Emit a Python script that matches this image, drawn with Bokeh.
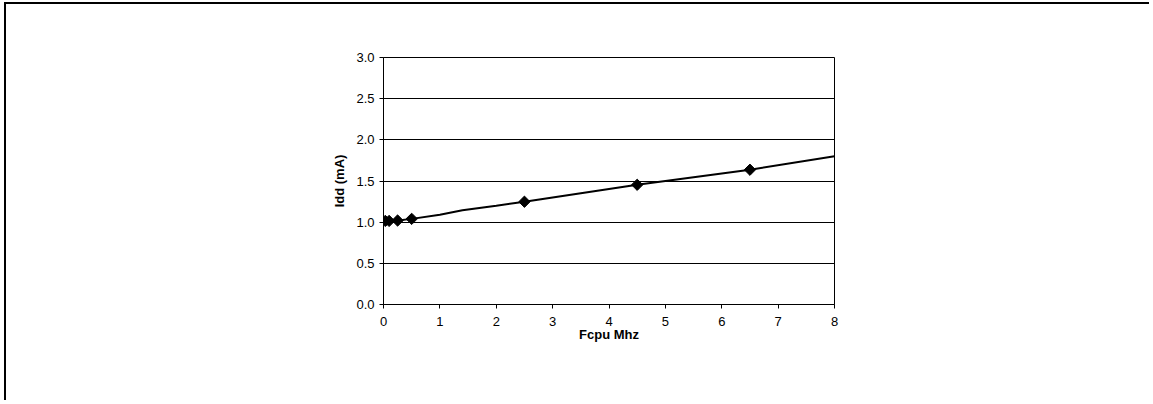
import math
from bokeh.plotting import figure
from bokeh.models import Range1d, FixedTicker, PrintfTickFormatter, InlineStyleSheet
from bokeh.embed import file_html
from bokeh.resources import INLINE

# Data
fcpu_mhz = [0.032, 0.1, 0.25, 0.5, 2.5, 4.5, 6.5]
idd_ma = [1.015, 1.015, 1.02, 1.04, 1.248, 1.454, 1.637]

# curve (smoothed trend through measurements)
curve_x = [0.0, 0.032, 0.1, 0.25, 0.5, 1.0, 1.4, 2.0, 2.5, 4.5, 6.5, 8.0, 8.15]
curve_y = [1.01, 1.015, 1.015, 1.02, 1.04, 1.09, 1.145, 1.20, 1.248, 1.454, 1.637, 1.80, 1.815]

x_ticks = [0, 1, 2, 3, 4, 5, 6, 7, 8]
y_ticks = [0.0, 0.5, 1.0, 1.5, 2.0, 2.5, 3.0]

FONT = "Liberation Sans"

p = figure(width=1145, height=398, output_backend="svg", toolbar_location=None,
           x_range=Range1d(0, 8), y_range=Range1d(0, 3),
           min_border_left=377, min_border_top=53, min_border_right=317, min_border_bottom=98)
p.stylesheets = [InlineStyleSheet(css=":host { margin-left: 4px !important; margin-top: 2px !important; "
                                      "border-left: 2px solid black !important; border-top: 2px solid black !important; }")]
p.background_fill_color = "white"
p.border_fill_color = "white"
p.outline_line_color = "black"
p.outline_line_width = 1

p.xgrid.visible = False
p.ygrid.ticker = FixedTicker(ticks=y_ticks)
p.ygrid.grid_line_color = "black"
p.ygrid.grid_line_width = 1

p.xaxis.ticker = FixedTicker(ticks=x_ticks)
p.yaxis.ticker = FixedTicker(ticks=y_ticks)
p.yaxis.formatter = PrintfTickFormatter(format="%.1f")

for ax in (p.xaxis[0], p.yaxis[0]):
    ax.axis_line_color = "black"
    ax.axis_line_width = 1
    ax.major_tick_line_color = "black"
    ax.major_tick_out = 4
    ax.major_tick_in = 0
    ax.minor_tick_line_color = None
    ax.major_label_text_font = FONT
    ax.major_label_text_font_size = "13px"
    ax.major_label_text_color = "black"
    ax.axis_label_text_font = FONT
    ax.axis_label_text_font_size = "13px"
    ax.axis_label_text_font_style = "bold"
    ax.axis_label_text_color = "black"

p.xaxis.axis_label = "Fcpu Mhz"
p.yaxis.axis_label = "Idd (mA)"
p.xaxis.major_label_standoff = 8
p.yaxis.major_label_standoff = 5
p.xaxis.axis_label_standoff = -2
p.yaxis.axis_label_standoff = 6

p.line(curve_x, curve_y, line_color="black", line_width=2)
p.scatter(fcpu_mhz, idd_ma, marker="square", angle=math.pi / 4, size=8,
          fill_color="black", line_color="black")

open("out.html", "w").write(file_html(p, INLINE))
